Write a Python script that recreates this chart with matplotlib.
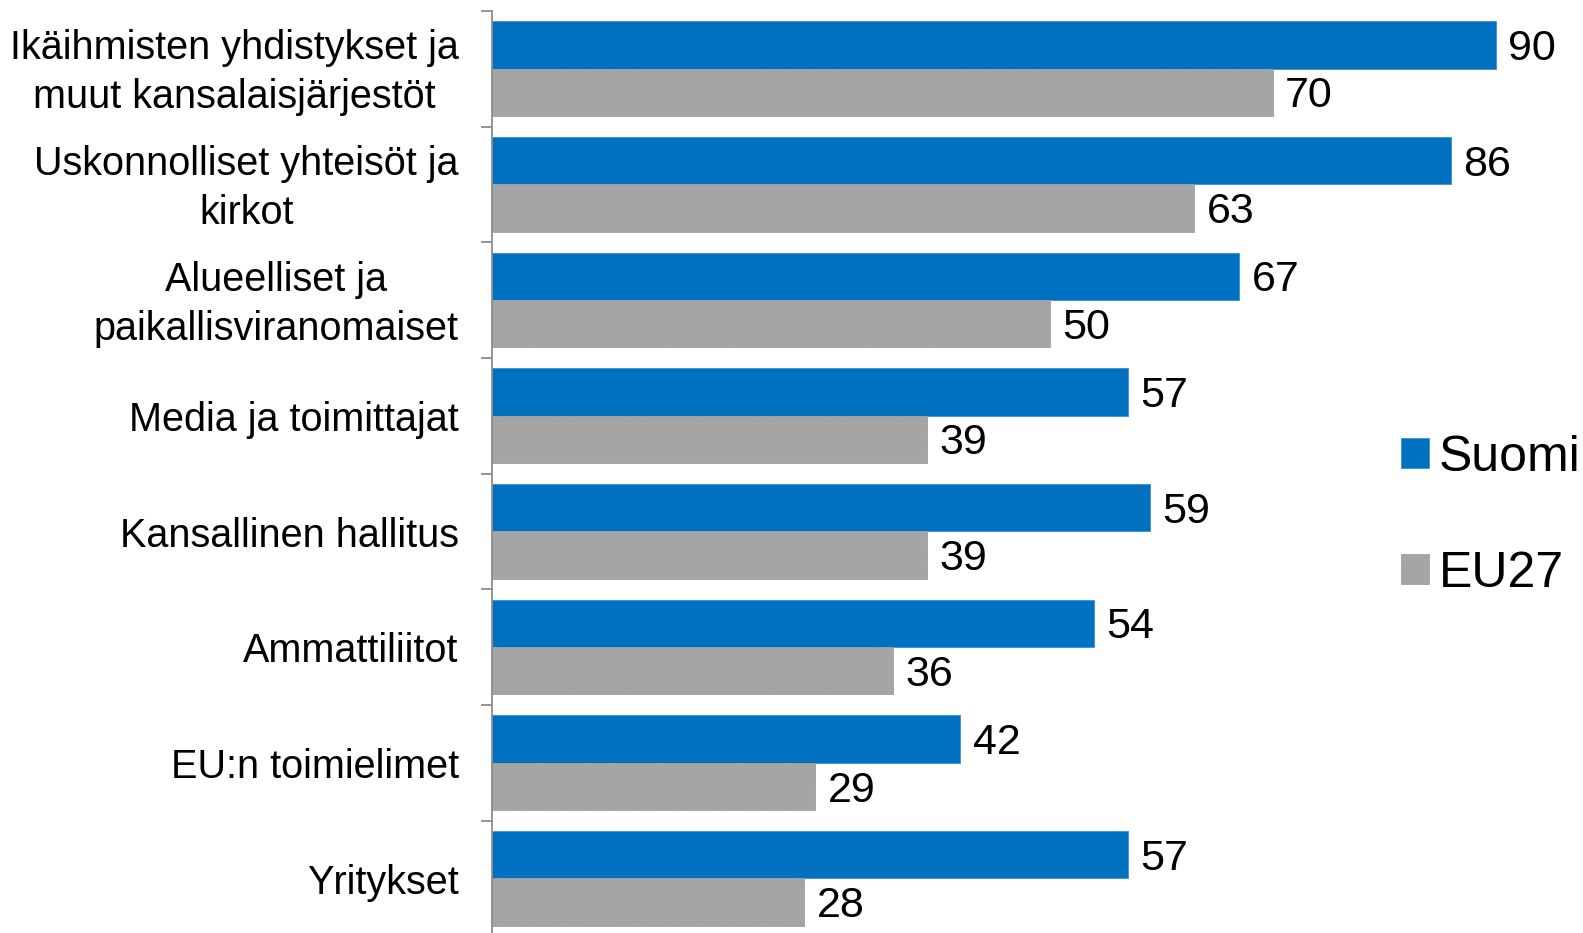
import matplotlib
matplotlib.use("Agg")
import matplotlib.pyplot as plt
import matplotlib.transforms as mtransforms
import numpy as np

categories = [
    "Ikäihmisten yhdistykset ja\nmuut kansalaisjärjestöt",
    "Uskonnolliset yhteisöt ja\nkirkot",
    "Alueelliset ja\npaikallisviranomaiset",
    "Media ja toimittajat",
    "Kansallinen hallitus",
    "Ammattiliitot",
    "EU:n toimielimet",
    "Yritykset",
]
suomi = [90, 86, 67, 57, 59, 54, 42, 57]
eu27 = [70, 63, 50, 39, 39, 36, 29, 28]
series_names = ["Suomi", "EU27"]

plt.rcParams['font.family'] = ['Liberation Sans', 'DejaVu Sans']
plt.rcParams['hatch.linewidth'] = 0.4
plt.rcParams['hatch.color'] = '#8f8f8f'

W, H = 1583, 933
fig = plt.figure(figsize=(W / 100, H / 100), dpi=100)
left = 492 / W
top_px, bottom_px = 11.1, 936.5
ax = fig.add_axes([left, 1 - bottom_px / H, 1 - left, (bottom_px - top_px) / H])

n = len(categories)
idx = np.arange(n)
bh = 0.41
blue_c = idx + 0.087 + bh / 2
gray_c = idx + 0.087 + bh + bh / 2

bars1 = ax.barh(blue_c, suomi, height=bh, color='#0070C0', edgecolor='#3d8fd0',
                linewidth=0.6, label=series_names[0])
bars2 = ax.barh(gray_c, eu27, height=bh, color='#A6A6A6', edgecolor='#a0a0a0',
                linewidth=0.6, hatch='......', label=series_names[1])

for bars, vals in ((bars1, suomi), (bars2, eu27)):
    for b, v in zip(bars, vals):
        ax.annotate(f"{v}", (v, b.get_y() + b.get_height() / 2),
                    xytext=(9, -3), textcoords='offset points',
                    ha='left', va='center', fontsize=31, color='black',
                    annotation_clip=False)

ax.set_ylim(n, 0)
ax.set_xlim(0, (W - 492) / 11.15)
ax.set_yticks(idx + 0.5)
ax.set_yticklabels(categories, fontsize=28.5, linespacing=1.37)
ax.set_yticks(np.arange(n + 1), minor=True)
ax.tick_params(axis='y', which='major', length=0, pad=24)
ax.tick_params(axis='y', which='minor', length=8, width=1.3, color='#8c8c8c')
shift = mtransforms.ScaledTranslation(0, -4 / 100, fig.dpi_scale_trans)
for lbl in ax.get_yticklabels():
    lbl.set_multialignment('center')
    if "\n" in lbl.get_text():
        lbl.set_verticalalignment('center')
        lbl.set_transform(lbl.get_transform() + shift)
ax.set_xticks([])
for s in ('top', 'right', 'bottom'):
    ax.spines[s].set_visible(False)
ax.spines['left'].set_color('#8c8c8c')
ax.spines['left'].set_linewidth(1.3)

fig.legend(handles=[bars1, bars2], labels=series_names, loc='center left',
           bbox_to_anchor=(1401 / W, 1 - 516 / H), frameon=False, fontsize=36,
           handlelength=0.55, handleheight=0.55, handletextpad=0.2,
           labelspacing=1.4, borderpad=0, borderaxespad=0)

fig.savefig("out.png", dpi=100)
